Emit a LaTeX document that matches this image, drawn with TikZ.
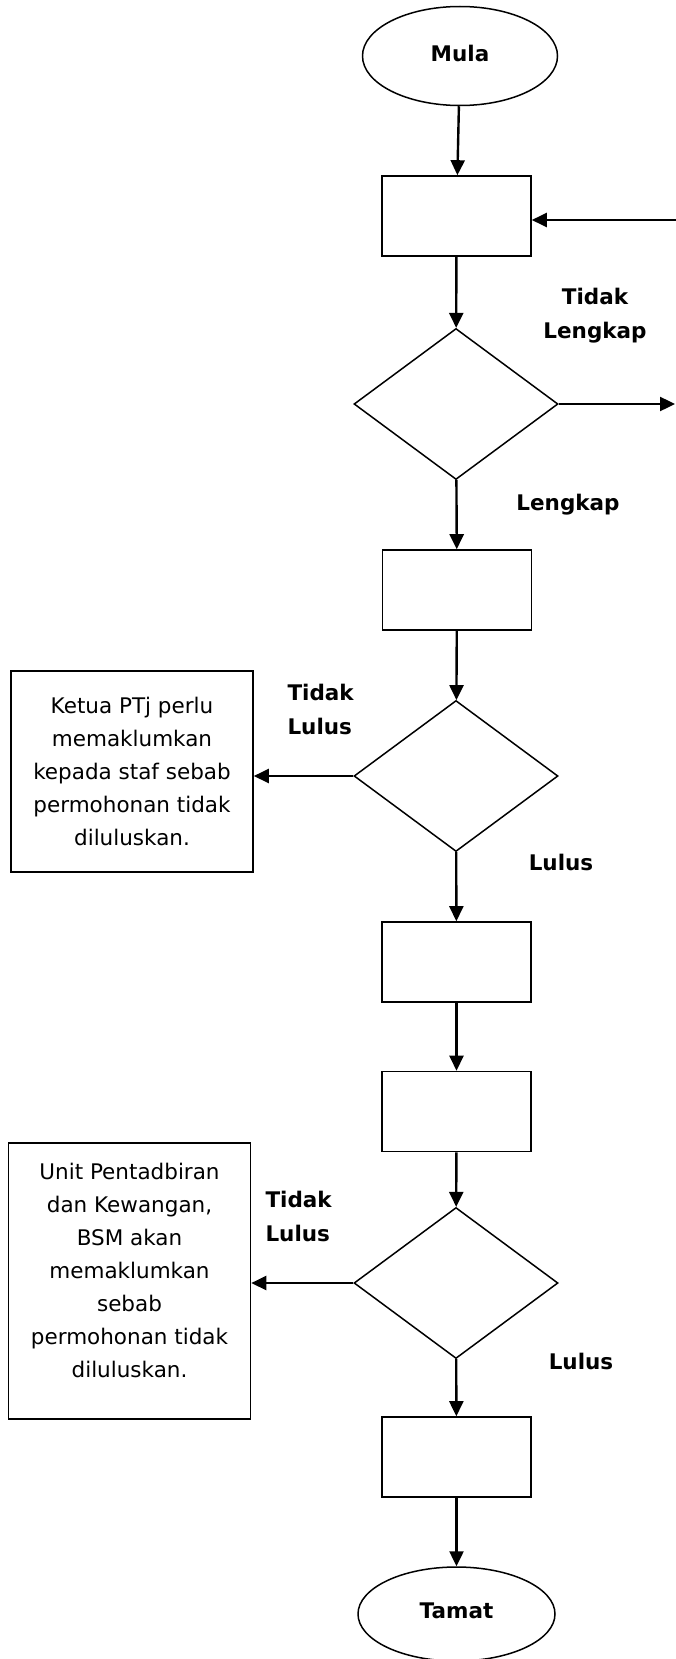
\documentclass[tikz,border=0pt]{standalone}
\usepackage{fontspec}
\setmainfont{DejaVu Sans}
\usetikzlibrary{shapes.geometric,arrows.meta}
\tikzset{
  box/.style={draw,line width=1.6pt,minimum width=149pt,minimum height=80pt,inner sep=0pt},
  decision/.style={draw,diamond,line width=1.5pt,minimum width=204pt,minimum height=151pt,inner sep=0pt},
  terminal/.style={draw,ellipse,line width=1.5pt,minimum width=195pt,minimum height=99pt,
    font=\fontsize{21.5}{26}\selectfont\bfseries},
  notebox/.style={draw,line width=1.6pt,minimum width=242pt,align=center,
    font=\fontsize{21.5}{33}\selectfont},
  answer/.style={font=\fontsize{21.5}{34}\selectfont\bfseries},
  flow/.style={line width=2.4pt,-{Triangle[length=15pt,width=14pt]}}
}
\begin{document}
\begin{tikzpicture}[x=1pt,y=-1pt]
  \useasboundingbox (0,0) rectangle (676,1659);
  \node[terminal] (mula) at (460,56) {\raisebox{6pt}{Mula}};
  \node[box] (b1) at (456.5,216) {};
  \node[decision] (d1) at (456,404) {};
  \node[box] (b2) at (457,590) {};
  \node[decision] (d2) at (456,776) {};
  \node[box] (b3) at (456.5,962) {};
  \node[box] (b4) at (456.5,1111.5) {};
  \node[decision] (d3) at (456,1283) {};
  \node[box] (b5) at (456.5,1457) {};
  \node[terminal,minimum width=197pt,minimum height=94pt] (tamat) at (456.5,1614) {\raisebox{6pt}{Tamat}};
  \node[notebox,minimum height=201pt] (tolak1) at (132,771.5)
    {Ketua PTj perlu\\memaklumkan\\kepada staf sebab\\permohonan tidak\\diluluskan.};
  \node[notebox,minimum height=276pt] (tolak2) at (129.5,1281)
    {Unit Pentadbiran\\dan Kewangan,\\BSM akan\\memaklumkan\\sebab\\permohonan tidak\\diluluskan.\\[-12pt]\mbox{}};
  \coordinate (balik) at (676,220);
  \coordinate (keluar) at (675,404);
  % labels
  \node[answer,align=center] (tl) at (595,316) {Tidak\\Lengkap};
  \node[answer] (lk) at (568,505) {Lengkap};
  \node[answer,align=left,anchor=west] (tl1) at (284,709) {Tidak\\Lulus};
  \node[answer] (l1) at (561,862) {Lulus};
  \node[answer,align=left,anchor=west] (tl2) at (262,1216) {Tidak\\Lulus};
  \node[answer] (l2) at (581,1361) {Lulus};
  \begin{scope}[flow]
    \draw (mula) to (b1);
    \draw (b1) to (d1);
    \draw (balik) to (b1.east |- balik);
    \draw (d1.east) to (keluar);
    \draw (d1) to (b2);
    \draw (b2) to (d2);
    \draw (d2.west) to (tolak1.east |- d2.west);
    \draw (d2) to (b3);
    \draw (b3) to (b4);
    \draw (b4) to (d3);
    \draw (d3.west) to (tolak2.east |- d3.west);
    \draw (d3) to (b5);
    \draw (b5) to (tamat);
  \end{scope}
\end{tikzpicture}
\end{document}
